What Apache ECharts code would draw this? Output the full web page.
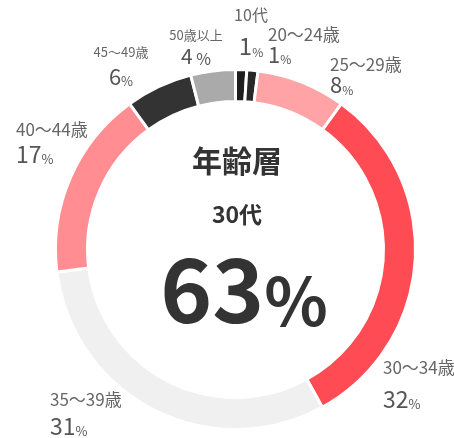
<!DOCTYPE html>
<html>
<head>
<meta charset="utf-8">
<script src="https://cdn.jsdelivr.net/npm/echarts@6/dist/echarts.min.js"></script>
<style>
html,body{margin:0;padding:0;background:#fff;}
#chart{width:454px;height:438px;}
</style>
</head>
<body>
<div id="chart"></div>
<script>
// ---- data ----
const categories = ['10代', '20～24歳', '25～29歳', '30～34歳', '35～39歳', '40～44歳', '45～49歳', '50歳以上'];
const values = [1, 1, 8, 32, 31, 17, 6, 4];
const centerTitle = '年齢層';
const centerGroup = '30代';
const centerGroupMembers = ['30～34歳', '35～39歳'];

// ---- styles ----
const colors = ['#1e1e1e', '#282828', '#ffa3a7', '#ff4b54', '#f0f0f0', '#ff8d91', '#333333', '#aaaaaa'];
// [x, nameCenterY, valueCenterY, align, nameSize, valueSize, pctSize, pctGap]
const labelSpec = [
  [251, 15, 46, 'center', 16, 24, 12, ''],
  [268, 34.5, 54.5, 'left', 17, 22, 12, ''],
  [330, 64.5, 85, 'left', 17, 22, 12, ''],
  [383, 368, 399.5, 'left', 17, 23, 13, ''],
  [50, 399.5, 426.5, 'left', 17, 23, 13, ''],
  [16, 129.5, 154, 'left', 17, 23, 13, ''],
  [121, 52, 77, 'center', 13, 22, 13, ''],
  [196, 35, 56.5, 'center', 13, 21, 16, ' ']
];

const FONT = '"Noto Sans CJK JP", "Noto Sans", sans-serif';

const data = categories.map((name, i) => {
  const s = labelSpec[i];
  const nLH = 2 * (s[2] - s[1] - s[5] / 2);
  const al = s[3];
  return {
    name: name,
    value: values[i],
    itemStyle: { color: colors[i] },
    label: {
      formatter: '{n|{b}}\n{v|{c}}{p|' + s[7] + '%}',
      rich: {
        n: { fontSize: s[4], lineHeight: nLH, color: '#666', fontFamily: FONT, align: al },
        v: { fontSize: s[5], color: '#555', fontFamily: FONT, verticalAlign: 'bottom', align: al },
        p: { fontSize: s[6], color: '#555', fontFamily: FONT, verticalAlign: 'bottom', align: al }
      }
    }
  };
});

const centerPct = values.filter((v, i) => centerGroupMembers.indexOf(categories[i]) >= 0).reduce((a, b) => a + b, 0);

const chart = echarts.init(document.getElementById('chart'), null, { renderer: 'canvas' });
chart.setOption({
  animation: false,
  backgroundColor: '#ffffff',
  series: [{
    type: 'pie',
    center: [235.5, 249.5],
    radius: [148, 180],
    startAngle: 90,
    clockwise: true,
    avoidLabelOverlap: false,
    silent: true,
    itemStyle: { borderColor: '#ffffff', borderWidth: 3 },
    label: { show: true, position: 'outside', fontFamily: FONT },
    labelLine: { show: false },
    labelLayout: function (params) {
      const s = labelSpec[params.dataIndex];
      const nLH = 2 * (s[2] - s[1] - s[5] / 2);
      return { x: s[0], y: s[1] - nLH / 2, align: s[3], verticalAlign: 'top' };
    },
    data: data
  }],
  graphic: [
    {
      type: 'text',
      x: 237, y: 161,
      style: { text: centerTitle, font: 'bold 30px ' + FONT, fill: '#333', align: 'center', verticalAlign: 'middle' }
    },
    {
      type: 'text',
      x: 237, y: 214,
      style: { text: centerGroup, font: 'bold 23px ' + FONT, fill: '#333', align: 'center', verticalAlign: 'middle' }
    },
    {
      type: 'text',
      x: 244, y: 290,
      style: {
        text: '{a|' + centerPct + '}{b|%}',
        align: 'center', verticalAlign: 'middle',
        rich: {
          a: { fontSize: 88, fontWeight: 'bold', fontFamily: FONT, fill: '#333', color: '#333', verticalAlign: 'bottom' },
          b: { fontSize: 66, fontWeight: 'bold', fontFamily: FONT, fill: '#333', color: '#333', verticalAlign: 'bottom' }
        }
      }
    }
  ]
});
</script>
</body>
</html>
